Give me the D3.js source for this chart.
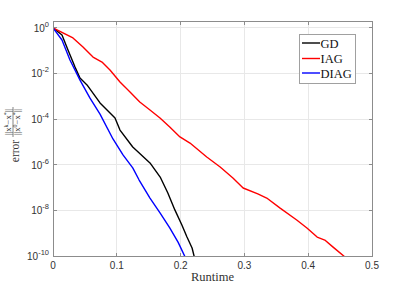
<!DOCTYPE html>
<html><head><meta charset="utf-8">
<script src="https://cdn.jsdelivr.net/npm/d3@7"></script>
<style>body{margin:0;background:#fff}svg{display:block}</style>
</head><body>
<script>
// Runtime (x) and log10(error) (y)
const gdT   = [0, 0.0141, 0.0235, 0.0345, 0.0423, 0.0533, 0.0737, 0.0972, 0.105, 0.125, 0.152, 0.168, 0.180, 0.191, 0.202, 0.210, 0.218, 0.222];
const gdLog = [0, -0.31, -0.97, -1.72, -2.20, -2.50, -3.29, -3.95, -4.48, -5.22, -5.92, -6.54, -7.24, -7.98, -8.64, -9.17, -9.65, -10.1];
const iagT   = [0, 0.0313, 0.047, 0.0627, 0.0768, 0.0893, 0.105, 0.1207, 0.136, 0.152, 0.1677, 0.183, 0.199, 0.2147, 0.241, 0.262, 0.282, 0.298, 0.321, 0.335, 0.356, 0.382, 0.398, 0.414, 0.426, 0.439, 0.460];
const iagLog = [0, -0.44, -0.84, -1.28, -1.50, -1.85, -2.37, -2.81, -3.25, -3.60, -3.95, -4.35, -4.78, -5.05, -5.66, -6.10, -6.58, -7.02, -7.28, -7.46, -7.90, -8.42, -8.77, -9.17, -9.30, -9.61, -10.1];
const diagT   = [0, 0.0141, 0.0266, 0.0423, 0.058, 0.0737, 0.094, 0.1097, 0.125, 0.135, 0.152, 0.168, 0.183, 0.196, 0.208];
const diagLog = [0, -0.53, -1.41, -2.29, -3.08, -3.78, -4.87, -5.57, -6.14, -6.67, -7.46, -8.12, -8.77, -9.39, -10.1];

const seriesNames  = ["GD", "IAG", "DIAG"];
const seriesColors = ["#000000", "#ff0000", "#0000ff"];
const xTicks = [0, 0.1, 0.2, 0.3, 0.4, 0.5];
const yTickExps = [0, -2, -4, -6, -8, -10];

const W = 411, H = 288;
const L = 53, R = 372, T = 21, B = 256;
const svg = d3.select("body").append("svg").attr("width", W).attr("height", H);

const x = d3.scaleLinear().domain([0, 0.5]).range([L, R]);
const y = d3.scaleLog().domain([1e-10, 2]).range([B, T]);

// grid
const g = svg.append("g");
g.selectAll(".gx").data(xTicks).join("line")
  .attr("x1", d => x(d)).attr("x2", d => x(d)).attr("y1", T).attr("y2", B)
  .attr("stroke", "#e8e8e8").attr("stroke-width", 1).attr("shape-rendering", "crispEdges");
g.selectAll(".gy").data(yTickExps).join("line")
  .attr("x1", L).attr("x2", R).attr("y1", d => y(Math.pow(10, d))).attr("y2", d => y(Math.pow(10, d)))
  .attr("stroke", "#e8e8e8").attr("stroke-width", 1).attr("shape-rendering", "crispEdges");

// curves
svg.append("clipPath").attr("id", "clip").append("rect")
  .attr("x", L).attr("y", T).attr("width", R - L).attr("height", B - T);
const line = d3.line().x(d => x(d[0])).y(d => y(Math.pow(10, d[1])));
const series = [
  d3.zip(gdT, gdLog),
  d3.zip(iagT, iagLog),
  d3.zip(diagT, diagLog)
];
const cg = svg.append("g").attr("clip-path", "url(#clip)");
series.forEach((s, i) => {
  cg.append("path").datum(s).attr("d", line).attr("fill", "none")
    .attr("stroke", seriesColors[i]).attr("stroke-width", 1.4).attr("stroke-linejoin", "round");
});

// axes box
const axisColor = "#8c8c8c";
svg.append("rect").attr("x", L).attr("y", T).attr("width", R - L).attr("height", B - T)
  .attr("fill", "none").attr("stroke", axisColor).attr("stroke-width", 1).attr("shape-rendering", "crispEdges");

// ticks (inward, both sides)
const tl = 3.5;
xTicks.forEach(d => {
  svg.append("line").attr("x1", x(d)).attr("x2", x(d)).attr("y1", B).attr("y2", B - tl).attr("stroke", axisColor).attr("shape-rendering", "crispEdges");
  svg.append("line").attr("x1", x(d)).attr("x2", x(d)).attr("y1", T).attr("y2", T + tl).attr("stroke", axisColor).attr("shape-rendering", "crispEdges");
});
yTickExps.forEach(e => {
  const yy = y(Math.pow(10, e));
  svg.append("line").attr("x1", L).attr("x2", L + tl).attr("y1", yy).attr("y2", yy).attr("stroke", axisColor).attr("shape-rendering", "crispEdges");
  svg.append("line").attr("x1", R).attr("x2", R - tl).attr("y1", yy).attr("y2", yy).attr("stroke", axisColor).attr("shape-rendering", "crispEdges");
});

// tick labels
const tickFont = "'Liberation Sans', Arial, sans-serif";
const tickColor = "#333";
svg.selectAll(".xl").data(xTicks).join("text")
  .attr("x", d => x(d)).attr("y", B + 13)
  .attr("text-anchor", "middle").attr("font-family", tickFont).attr("font-size", 10)
  .attr("fill", tickColor).text(d => d === 0 ? "0" : d3.format(".1f")(d));

yTickExps.forEach(e => {
  const yy = y(Math.pow(10, e));
  const t = svg.append("text").attr("x", L - 4).attr("y", yy + 4)
    .attr("text-anchor", "end").attr("font-family", tickFont).attr("font-size", 10).attr("fill", tickColor);
  t.append("tspan").text("10");
  t.append("tspan").attr("dy", -5).attr("font-size", 7.5).text(String(e));
});

// x label
const serif = "'Liberation Serif', 'Times New Roman', serif";
svg.append("text").attr("x", (L + R) / 2).attr("y", 281).attr("text-anchor", "middle")
  .attr("font-family", serif).attr("font-size", 12.5).attr("fill", "#333").text("Runtime");

// y label (rotated): error  ||x^k - x*|| / ||x^0 - x*||
const yl = svg.append("g").attr("transform", `translate(0,${(T + B) / 2}) rotate(-90)`)
  .attr("font-family", serif).attr("fill", "#333");
yl.append("text").attr("x", -12.5).attr("y", 18.5).attr("text-anchor", "middle").attr("font-size", 11.5).text("error");
const fx = 16.5;
function fracPart(yPos, sup) {
  const t = yl.append("text").attr("x", fx).attr("y", yPos).attr("text-anchor", "middle").attr("font-size", 8.5);
  t.append("tspan").text("||x");
  t.append("tspan").attr("dy", -3).attr("font-size", 6).text(sup);
  t.append("tspan").attr("dy", 3).text("\u2212x");
  t.append("tspan").attr("dy", -3).attr("font-size", 6).text("*");
  t.append("tspan").attr("dy", 3).text("||");
}
fracPart(10.5, "k");
yl.append("line").attr("x1", fx - 15).attr("x2", fx + 15).attr("y1", 13).attr("y2", 13).attr("stroke", "#333").attr("stroke-width", 0.6);
fracPart(20, "0");

// legend
const lg = svg.append("g");
lg.append("rect").attr("x", 299.5).attr("y", 34.5).attr("width", 56).attr("height", 49)
  .attr("fill", "#fff").attr("stroke", "#a0a0a0").attr("stroke-width", 1);
const ly = [43, 58.5, 73];
seriesNames.forEach((n, i) => {
  lg.append("line").attr("x1", 302).attr("x2", 320).attr("y1", ly[i]).attr("y2", ly[i])
    .attr("stroke", seriesColors[i]).attr("stroke-width", 1.4);
  lg.append("text").attr("x", 320.5).attr("y", ly[i] + 4.5).attr("font-family", serif)
    .attr("font-size", 12.5).attr("fill", "#111").text(n);
});
</script>
</body></html>
